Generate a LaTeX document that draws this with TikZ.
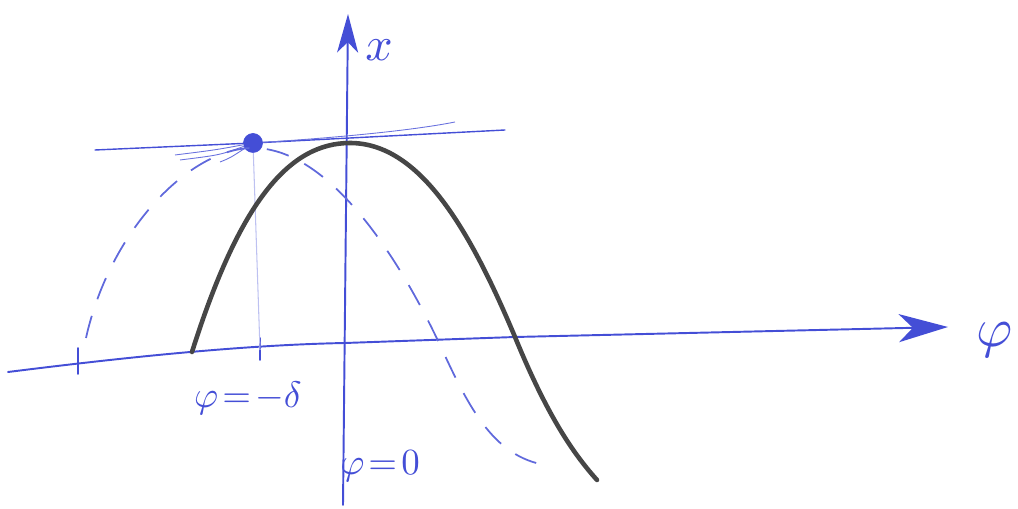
\documentclass[tikz,border=0pt]{standalone}
\usepackage{tikz}
\usetikzlibrary{positioning}
\usetikzlibrary{arrows.meta}

\definecolor{ink}{RGB}{68,78,214}
\definecolor{pencil}{RGB}{70,70,70}

\tikzset{
	axisline/.style={ink, line width=1.1pt, line cap=round},
	solidcurve/.style={pencil, line width=2.6pt, line cap=round},
	dashcurve/.style={ink!85, line width=1pt, dash pattern=on 13pt off 10pt},
	hatch/.style={ink!80, line width=0.5pt},
	lbl/.style={ink, scale=2.1, inner sep=0pt}
}

\begin{document}
\begin{tikzpicture}[x=0.02cm, y=-0.02cm]
				\useasboundingbox (0,0) rectangle (1018,509);
				% axes
				\node[shape=coordinate] (hstart) at (8,372) {};
				\node[shape=coordinate] (hend) at (948,327) {};
				\node[shape=coordinate] (vstart) at (343,505) {};
				\node[shape=coordinate] (vend) at (348,14) {};
				\node[shape=coordinate] (lstart) at (95,150) {};
				\node[shape=coordinate] (lend) at (505,130) {};
				\node[shape=coordinate] (tickl) at (78,362) {};
				\node[shape=coordinate] (tickd) at (260,350) {};
				\node[circle, fill=ink, draw=ink, inner sep=0pt, minimum size=0.38cm] (dot) at (253,143) {};
				\node[lbl, scale=1.5] (phiax) at (995,340) {$\varphi$};
				\node[lbl, scale=1.3] (xax) at (379,50) {$x$};
				\node[lbl] (lbldelta) at (248,398) {$\varphi\!=\!-\delta$};
				\node[lbl] (lblzero) at (380,466) {$\varphi\!=\!0$};
				\begin{scope}
					\draw[axisline, -{Stealth[length=28pt, width=16pt, inset=8pt]}] (hstart) .. controls (120,358) and (240,345) .. (345,343) -- (515,337) -- (hend);
					\draw[axisline, -{Stealth[length=22pt, width=12pt, inset=6pt]}] (vstart) -- (vend);
					\draw[axisline, line width=0.8pt] (lstart) -- (dot) -- (lend);
					\draw[axisline] (tickl) ++(0,-14) -- ++(0,26);
					\draw[axisline] (tickd) ++(0,-12) -- ++(0,22);
					\draw[ink!35, line width=0.6pt] (dot) -- (tickd);
					% scribbles round the dot
					\draw[hatch] (dot) .. controls (215,150) .. (175,155);
					\draw[hatch] (dot) .. controls (220,155) .. (180,160);
					\draw[hatch] (dot) .. controls (230,158) .. (220,162);
					\draw[hatch] (dot) .. controls (300,140) and (400,133) .. (455,122);
				\end{scope}
				% curves
				\draw[dashcurve] (86,338) .. controls (110,230) and (190,148) .. (253,148) .. controls (330,148) and (400,260) .. (440,345) .. controls (470,410) and (495,460) .. (552,466);
				\draw[solidcurve] (192,352) .. controls (240,200) and (290,143) .. (350,143) .. controls (420,143) and (470,230) .. (515,337) .. controls (545,410) and (570,450) .. (597,480);
			\end{tikzpicture}
\end{document}
